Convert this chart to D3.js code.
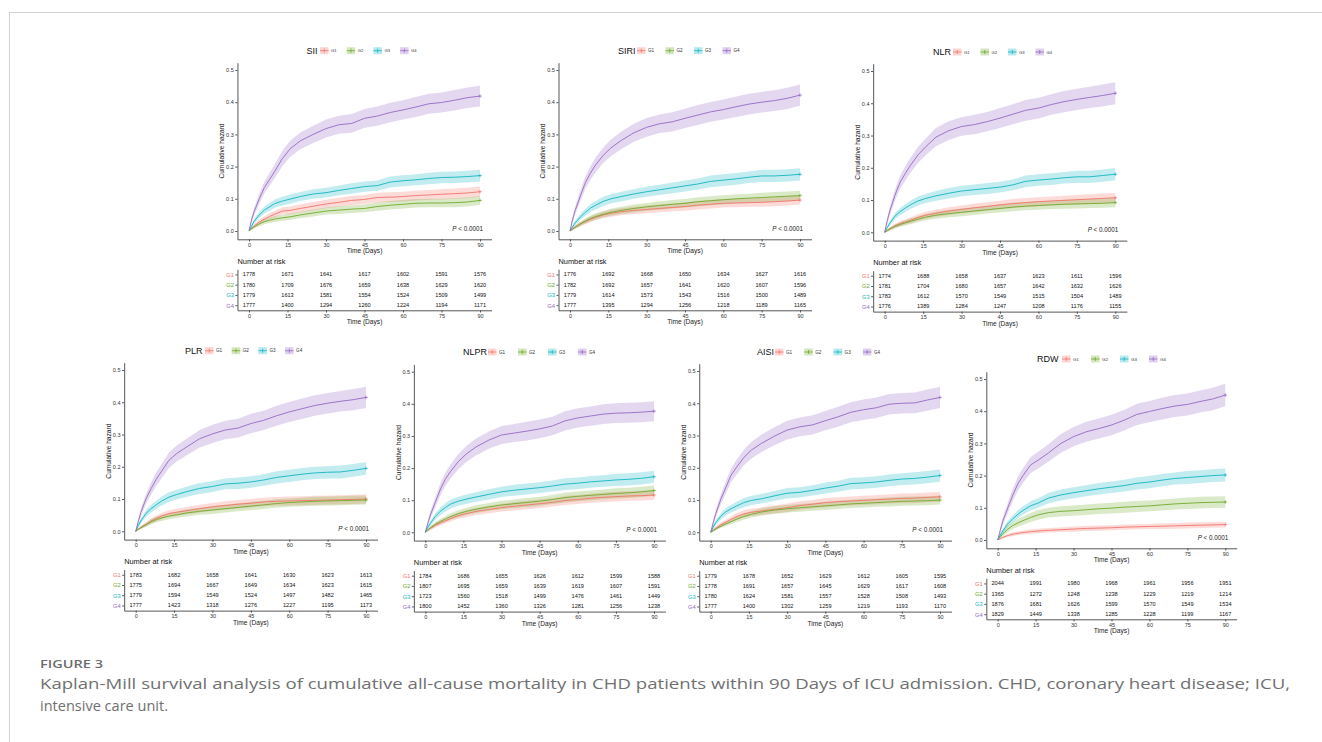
<!DOCTYPE html>
<html>
<head>
<meta charset="utf-8">
<script src="https://cdn.jsdelivr.net/npm/d3@7"></script>
<style>
  body { margin: 0; background: #fff; }
  svg { display: block; font-family: "Liberation Sans", Arial, sans-serif; }
  .axis path, .axis line { stroke: #444; stroke-width: 0.9; }
  .axis text { fill: #333; font-size: 5.5px; font-family: "Liberation Sans", Arial, sans-serif; }
</style>
</head>
<body>
<div id="chart"></div>
<script>
// Kaplan-Meier cumulative hazard panels
const groups = ["G1", "G2", "G3", "G4"];
const colors = ["#F4736B", "#6FAA2A", "#12B5C2", "#9568C4"];
const times = [0, 1, 2, 4, 6, 8, 10, 13, 16, 20, 25, 30, 35, 40, 45, 50, 55, 60, 65, 70, 75, 80, 85, 90];
const riskTimes = [0, 15, 30, 45, 60, 75, 90];
const xTicks = [0, 15, 30, 45, 60, 75, 90];
const yTicks = [0, 0.1, 0.2, 0.3, 0.4, 0.5];
const panelNames = ["SII", "SIRI", "NLR", "PLR", "NLPR", "AISI", "RDW"];

// ---- SII ----
const SII_haz = [
  [0, 0.008, 0.015, 0.028, 0.037, 0.045, 0.052, 0.062, 0.064, 0.070, 0.077, 0.084, 0.089, 0.095, 0.098, 0.104, 0.105, 0.107, 0.110, 0.112, 0.114, 0.116, 0.118, 0.122],
  [0, 0.007, 0.013, 0.022, 0.029, 0.033, 0.037, 0.041, 0.044, 0.050, 0.056, 0.062, 0.065, 0.068, 0.070, 0.076, 0.080, 0.083, 0.086, 0.087, 0.087, 0.088, 0.090, 0.095],
  [0, 0.015, 0.030, 0.050, 0.065, 0.075, 0.085, 0.093, 0.099, 0.107, 0.115, 0.119, 0.126, 0.132, 0.138, 0.141, 0.152, 0.156, 0.159, 0.163, 0.166, 0.167, 0.169, 0.172],
  [0, 0.035, 0.060, 0.100, 0.135, 0.160, 0.185, 0.225, 0.255, 0.280, 0.300, 0.318, 0.330, 0.334, 0.350, 0.357, 0.368, 0.376, 0.385, 0.395, 0.399, 0.406, 0.414, 0.419]
];
const SII_ci = [
  [0, 0.004, 0.006, 0.008, 0.009, 0.010, 0.010, 0.011, 0.012, 0.012, 0.013, 0.013, 0.014, 0.014, 0.014, 0.015, 0.015, 0.015, 0.015, 0.015, 0.016, 0.016, 0.016, 0.016],
  [0, 0.004, 0.005, 0.007, 0.008, 0.008, 0.009, 0.009, 0.010, 0.010, 0.011, 0.011, 0.012, 0.012, 0.012, 0.013, 0.013, 0.013, 0.013, 0.013, 0.013, 0.014, 0.014, 0.014],
  [0, 0.005, 0.008, 0.010, 0.011, 0.012, 0.013, 0.013, 0.014, 0.014, 0.015, 0.015, 0.015, 0.016, 0.016, 0.016, 0.017, 0.017, 0.017, 0.018, 0.018, 0.018, 0.018, 0.018],
  [0, 0.009, 0.012, 0.016, 0.018, 0.020, 0.021, 0.024, 0.025, 0.026, 0.027, 0.028, 0.028, 0.029, 0.029, 0.030, 0.030, 0.030, 0.031, 0.031, 0.031, 0.032, 0.032, 0.032]
];
const SII_risk = [
  [1778, 1671, 1641, 1617, 1602, 1591, 1576],
  [1780, 1709, 1676, 1659, 1638, 1629, 1620],
  [1779, 1613, 1581, 1554, 1524, 1509, 1499],
  [1777, 1400, 1294, 1260, 1224, 1194, 1171]
];

// ---- SIRI ----
const SIRI_haz = [
  [0, 0.006, 0.012, 0.021, 0.029, 0.036, 0.042, 0.050, 0.055, 0.060, 0.064, 0.067, 0.070, 0.073, 0.076, 0.080, 0.083, 0.086, 0.087, 0.088, 0.089, 0.091, 0.093, 0.096],
  [0, 0.006, 0.012, 0.022, 0.031, 0.039, 0.045, 0.052, 0.058, 0.064, 0.070, 0.075, 0.079, 0.083, 0.086, 0.091, 0.094, 0.097, 0.100, 0.102, 0.104, 0.106, 0.108, 0.110],
  [0, 0.013, 0.025, 0.043, 0.058, 0.071, 0.080, 0.092, 0.100, 0.107, 0.115, 0.122, 0.128, 0.134, 0.140, 0.146, 0.154, 0.158, 0.162, 0.167, 0.171, 0.171, 0.173, 0.176],
  [0, 0.035, 0.063, 0.108, 0.150, 0.180, 0.205, 0.235, 0.258, 0.281, 0.305, 0.322, 0.333, 0.339, 0.350, 0.360, 0.370, 0.377, 0.386, 0.394, 0.400, 0.405, 0.412, 0.422]
];
const SIRI_ci = [
  [0, 0.004, 0.005, 0.007, 0.008, 0.009, 0.009, 0.010, 0.011, 0.011, 0.011, 0.012, 0.012, 0.012, 0.013, 0.013, 0.013, 0.013, 0.013, 0.013, 0.014, 0.014, 0.014, 0.014],
  [0, 0.004, 0.005, 0.007, 0.008, 0.009, 0.010, 0.010, 0.011, 0.011, 0.012, 0.012, 0.013, 0.013, 0.013, 0.014, 0.014, 0.014, 0.014, 0.014, 0.015, 0.015, 0.015, 0.015],
  [0, 0.005, 0.007, 0.009, 0.011, 0.012, 0.013, 0.014, 0.014, 0.015, 0.015, 0.016, 0.016, 0.017, 0.017, 0.017, 0.018, 0.018, 0.018, 0.018, 0.019, 0.019, 0.019, 0.019],
  [0, 0.009, 0.012, 0.017, 0.019, 0.021, 0.023, 0.024, 0.026, 0.027, 0.028, 0.029, 0.029, 0.030, 0.030, 0.031, 0.031, 0.031, 0.032, 0.032, 0.032, 0.032, 0.033, 0.033]
];
const SIRI_risk = [
  [1776, 1692, 1668, 1650, 1634, 1627, 1616],
  [1782, 1692, 1657, 1641, 1620, 1607, 1596],
  [1779, 1614, 1573, 1543, 1516, 1500, 1489],
  [1777, 1395, 1294, 1256, 1218, 1189, 1165]
];

// ---- NLR ----
const NLR_haz = [
  [0, 0.006, 0.011, 0.020, 0.027, 0.032, 0.037, 0.046, 0.053, 0.059, 0.066, 0.071, 0.076, 0.080, 0.085, 0.089, 0.092, 0.095, 0.097, 0.099, 0.101, 0.103, 0.105, 0.107],
  [0, 0.005, 0.010, 0.018, 0.024, 0.029, 0.034, 0.041, 0.047, 0.053, 0.058, 0.062, 0.066, 0.070, 0.074, 0.078, 0.081, 0.083, 0.085, 0.087, 0.088, 0.089, 0.090, 0.092],
  [0, 0.015, 0.028, 0.050, 0.064, 0.075, 0.085, 0.097, 0.105, 0.113, 0.121, 0.128, 0.132, 0.136, 0.140, 0.147, 0.158, 0.162, 0.165, 0.169, 0.172, 0.172, 0.176, 0.180],
  [0, 0.036, 0.066, 0.115, 0.155, 0.182, 0.207, 0.240, 0.265, 0.295, 0.315, 0.328, 0.334, 0.343, 0.354, 0.366, 0.378, 0.385, 0.396, 0.405, 0.412, 0.418, 0.424, 0.431]
];
const NLR_ci = [
  [0, 0.004, 0.005, 0.006, 0.008, 0.008, 0.009, 0.010, 0.011, 0.011, 0.012, 0.012, 0.013, 0.013, 0.013, 0.014, 0.014, 0.014, 0.014, 0.014, 0.015, 0.015, 0.015, 0.015],
  [0, 0.003, 0.005, 0.006, 0.007, 0.008, 0.009, 0.009, 0.010, 0.011, 0.011, 0.012, 0.012, 0.012, 0.013, 0.013, 0.013, 0.013, 0.013, 0.014, 0.014, 0.014, 0.014, 0.014],
  [0, 0.005, 0.007, 0.010, 0.011, 0.012, 0.013, 0.014, 0.014, 0.015, 0.016, 0.016, 0.016, 0.017, 0.017, 0.017, 0.018, 0.018, 0.018, 0.018, 0.019, 0.019, 0.019, 0.019],
  [0, 0.010, 0.013, 0.017, 0.020, 0.022, 0.023, 0.025, 0.026, 0.028, 0.029, 0.029, 0.030, 0.030, 0.031, 0.031, 0.032, 0.032, 0.032, 0.033, 0.033, 0.033, 0.034, 0.034]
];
const NLR_risk = [
  [1774, 1688, 1658, 1637, 1623, 1611, 1596],
  [1781, 1704, 1680, 1657, 1642, 1632, 1626],
  [1783, 1612, 1570, 1549, 1515, 1504, 1489],
  [1776, 1389, 1284, 1247, 1208, 1176, 1155]
];

// ---- PLR ----
const PLR_haz = [
  [0, 0.006, 0.012, 0.021, 0.032, 0.040, 0.047, 0.055, 0.059, 0.064, 0.070, 0.076, 0.080, 0.084, 0.087, 0.091, 0.093, 0.094, 0.095, 0.096, 0.097, 0.098, 0.099, 0.100],
  [0, 0.006, 0.011, 0.020, 0.029, 0.036, 0.041, 0.047, 0.051, 0.057, 0.062, 0.066, 0.070, 0.074, 0.078, 0.082, 0.086, 0.089, 0.091, 0.093, 0.094, 0.095, 0.096, 0.097],
  [0, 0.017, 0.032, 0.055, 0.070, 0.082, 0.093, 0.106, 0.114, 0.123, 0.133, 0.139, 0.147, 0.149, 0.153, 0.159, 0.167, 0.172, 0.177, 0.181, 0.183, 0.184, 0.189, 0.195],
  [0, 0.030, 0.058, 0.100, 0.132, 0.161, 0.185, 0.220, 0.241, 0.262, 0.287, 0.302, 0.314, 0.320, 0.334, 0.344, 0.358, 0.370, 0.380, 0.390, 0.397, 0.403, 0.408, 0.415]
];
const PLR_ci = [
  [0, 0.003, 0.005, 0.006, 0.008, 0.009, 0.010, 0.010, 0.011, 0.011, 0.012, 0.012, 0.013, 0.013, 0.013, 0.013, 0.013, 0.014, 0.014, 0.014, 0.014, 0.014, 0.014, 0.014],
  [0, 0.003, 0.005, 0.006, 0.008, 0.009, 0.009, 0.010, 0.010, 0.011, 0.011, 0.012, 0.012, 0.012, 0.013, 0.013, 0.013, 0.013, 0.013, 0.014, 0.014, 0.014, 0.014, 0.014],
  [0, 0.006, 0.008, 0.011, 0.012, 0.013, 0.014, 0.015, 0.015, 0.016, 0.017, 0.017, 0.017, 0.018, 0.018, 0.018, 0.019, 0.019, 0.019, 0.019, 0.019, 0.020, 0.020, 0.020],
  [0, 0.009, 0.012, 0.016, 0.019, 0.021, 0.022, 0.024, 0.025, 0.026, 0.027, 0.028, 0.029, 0.029, 0.030, 0.030, 0.031, 0.031, 0.032, 0.032, 0.032, 0.032, 0.033, 0.033]
];
const PLR_risk = [
  [1783, 1682, 1658, 1641, 1630, 1623, 1613],
  [1775, 1694, 1667, 1649, 1634, 1623, 1615],
  [1779, 1594, 1549, 1524, 1497, 1482, 1465],
  [1777, 1423, 1318, 1276, 1227, 1195, 1173]
];

// ---- NLPR ----
const NLPR_haz = [
  [0, 0.006, 0.012, 0.022, 0.030, 0.036, 0.043, 0.052, 0.058, 0.065, 0.071, 0.077, 0.081, 0.085, 0.089, 0.093, 0.099, 0.102, 0.106, 0.109, 0.111, 0.113, 0.114, 0.116],
  [0, 0.007, 0.014, 0.025, 0.034, 0.042, 0.049, 0.058, 0.065, 0.072, 0.079, 0.085, 0.089, 0.093, 0.097, 0.102, 0.108, 0.112, 0.115, 0.118, 0.121, 0.123, 0.126, 0.130],
  [0, 0.015, 0.028, 0.050, 0.066, 0.078, 0.088, 0.097, 0.103, 0.110, 0.118, 0.126, 0.131, 0.135, 0.139, 0.144, 0.150, 0.153, 0.157, 0.160, 0.163, 0.165, 0.168, 0.173],
  [0, 0.028, 0.054, 0.095, 0.135, 0.167, 0.190, 0.220, 0.243, 0.266, 0.287, 0.303, 0.309, 0.315, 0.322, 0.331, 0.347, 0.356, 0.362, 0.368, 0.371, 0.372, 0.374, 0.377]
];
const NLPR_ci = [
  [0, 0.003, 0.005, 0.007, 0.008, 0.008, 0.009, 0.010, 0.011, 0.011, 0.012, 0.012, 0.013, 0.013, 0.013, 0.013, 0.014, 0.014, 0.014, 0.015, 0.015, 0.015, 0.015, 0.015],
  [0, 0.004, 0.005, 0.007, 0.008, 0.009, 0.010, 0.011, 0.011, 0.012, 0.012, 0.013, 0.013, 0.014, 0.014, 0.014, 0.015, 0.015, 0.015, 0.015, 0.016, 0.016, 0.016, 0.016],
  [0, 0.006, 0.008, 0.010, 0.012, 0.013, 0.014, 0.014, 0.015, 0.015, 0.016, 0.016, 0.017, 0.017, 0.017, 0.017, 0.018, 0.018, 0.018, 0.018, 0.019, 0.019, 0.019, 0.019],
  [0, 0.008, 0.012, 0.016, 0.019, 0.021, 0.022, 0.024, 0.025, 0.026, 0.027, 0.028, 0.028, 0.029, 0.029, 0.029, 0.030, 0.030, 0.030, 0.031, 0.031, 0.031, 0.031, 0.031]
];
const NLPR_risk = [
  [1784, 1686, 1655, 1626, 1612, 1599, 1588],
  [1807, 1695, 1659, 1639, 1619, 1607, 1591],
  [1723, 1560, 1518, 1499, 1476, 1461, 1449],
  [1800, 1452, 1360, 1326, 1281, 1256, 1238]
];

// ---- AISI ----
const AISI_haz = [
  [0, 0.007, 0.013, 0.023, 0.032, 0.040, 0.048, 0.057, 0.062, 0.066, 0.071, 0.076, 0.083, 0.087, 0.092, 0.095, 0.097, 0.099, 0.101, 0.103, 0.105, 0.106, 0.108, 0.110],
  [0, 0.005, 0.010, 0.019, 0.026, 0.033, 0.040, 0.049, 0.056, 0.063, 0.069, 0.073, 0.076, 0.079, 0.082, 0.085, 0.088, 0.090, 0.092, 0.094, 0.096, 0.097, 0.098, 0.100],
  [0, 0.016, 0.030, 0.050, 0.064, 0.073, 0.081, 0.092, 0.099, 0.104, 0.113, 0.121, 0.124, 0.130, 0.137, 0.143, 0.151, 0.153, 0.156, 0.161, 0.165, 0.167, 0.171, 0.176],
  [0, 0.030, 0.058, 0.103, 0.140, 0.177, 0.200, 0.232, 0.255, 0.276, 0.298, 0.317, 0.327, 0.333, 0.346, 0.358, 0.372, 0.380, 0.386, 0.397, 0.400, 0.401, 0.410, 0.418]
];
const AISI_ci = [
  [0, 0.004, 0.005, 0.007, 0.008, 0.009, 0.010, 0.011, 0.011, 0.012, 0.012, 0.013, 0.013, 0.013, 0.014, 0.014, 0.014, 0.014, 0.014, 0.014, 0.015, 0.015, 0.015, 0.015],
  [0, 0.003, 0.004, 0.006, 0.007, 0.008, 0.009, 0.010, 0.010, 0.011, 0.012, 0.012, 0.012, 0.012, 0.013, 0.013, 0.013, 0.013, 0.013, 0.014, 0.014, 0.014, 0.014, 0.014],
  [0, 0.006, 0.008, 0.010, 0.012, 0.012, 0.013, 0.014, 0.014, 0.015, 0.015, 0.016, 0.016, 0.016, 0.017, 0.017, 0.018, 0.018, 0.018, 0.018, 0.018, 0.019, 0.019, 0.019],
  [0, 0.009, 0.012, 0.016, 0.019, 0.021, 0.023, 0.024, 0.026, 0.027, 0.028, 0.029, 0.029, 0.030, 0.030, 0.031, 0.031, 0.032, 0.032, 0.032, 0.032, 0.032, 0.033, 0.033]
];
const AISI_risk = [
  [1779, 1678, 1652, 1629, 1612, 1605, 1595],
  [1778, 1691, 1657, 1645, 1629, 1617, 1608],
  [1780, 1624, 1581, 1557, 1528, 1508, 1493],
  [1777, 1400, 1302, 1259, 1219, 1193, 1170]
];

// ---- RDW ----
const RDW_haz = [
  [0, 0.004, 0.008, 0.014, 0.018, 0.021, 0.023, 0.026, 0.028, 0.030, 0.032, 0.034, 0.036, 0.037, 0.038, 0.040, 0.041, 0.042, 0.043, 0.044, 0.045, 0.046, 0.047, 0.048],
  [0, 0.010, 0.019, 0.034, 0.045, 0.053, 0.060, 0.070, 0.078, 0.085, 0.089, 0.091, 0.094, 0.097, 0.099, 0.102, 0.104, 0.106, 0.109, 0.112, 0.114, 0.116, 0.117, 0.118],
  [0, 0.015, 0.028, 0.050, 0.066, 0.080, 0.092, 0.106, 0.115, 0.130, 0.140, 0.147, 0.153, 0.159, 0.164, 0.169, 0.176, 0.180, 0.186, 0.191, 0.194, 0.197, 0.200, 0.202],
  [0, 0.030, 0.058, 0.100, 0.140, 0.175, 0.200, 0.233, 0.248, 0.270, 0.300, 0.321, 0.336, 0.346, 0.357, 0.372, 0.390, 0.399, 0.408, 0.416, 0.421, 0.430, 0.438, 0.450]
];
const RDW_ci = [
  [0, 0.003, 0.004, 0.005, 0.006, 0.006, 0.006, 0.007, 0.007, 0.007, 0.007, 0.008, 0.008, 0.008, 0.008, 0.008, 0.008, 0.008, 0.009, 0.009, 0.009, 0.009, 0.009, 0.009],
  [0, 0.005, 0.007, 0.010, 0.011, 0.012, 0.013, 0.014, 0.015, 0.015, 0.016, 0.016, 0.016, 0.016, 0.017, 0.017, 0.017, 0.017, 0.017, 0.017, 0.018, 0.018, 0.018, 0.018],
  [0, 0.005, 0.007, 0.010, 0.011, 0.013, 0.013, 0.014, 0.015, 0.016, 0.017, 0.017, 0.017, 0.018, 0.018, 0.018, 0.019, 0.019, 0.019, 0.019, 0.020, 0.020, 0.020, 0.020],
  [0, 0.009, 0.012, 0.016, 0.019, 0.022, 0.023, 0.025, 0.026, 0.027, 0.029, 0.030, 0.031, 0.031, 0.032, 0.032, 0.033, 0.033, 0.034, 0.034, 0.034, 0.034, 0.035, 0.035]
];
const RDW_risk = [
  [2044, 1991, 1980, 1968, 1961, 1956, 1951],
  [1365, 1272, 1248, 1238, 1229, 1219, 1214],
  [1876, 1681, 1626, 1599, 1570, 1549, 1534],
  [1829, 1449, 1338, 1285, 1228, 1199, 1167]
];

const hazards = [SII_haz, SIRI_haz, NLR_haz, PLR_haz, NLPR_haz, AISI_haz, RDW_haz];
const cis = [SII_ci, SIRI_ci, NLR_ci, PLR_ci, NLPR_ci, AISI_ci, RDW_ci];
const risks = [SII_risk, SIRI_risk, NLR_risk, PLR_risk, NLPR_risk, AISI_risk, RDW_risk];

// page positions of each panel: pixel of day 0 / day 90 and of hazard 0 / 0.5
const layout = [
  {x0: 249, x90: 480, y0: 231, y05: 70, titleX: 306.5, keyX: 320, keyStep: 26.7, legY: 50.7, keyFont: 4.2},
  {x0: 570, x90: 800, y0: 231, y05: 70, titleX: 618, keyX: 637, keyStep: 28.5, legY: 50.7, keyFont: 4.6},
  {x0: 884.7, x90: 1115.3, y0: 232.3, y05: 71, titleX: 933, keyX: 953, keyStep: 27.5, legY: 52, keyFont: 4.2},
  {x0: 135.7, x90: 366, y0: 531.3, y05: 370, titleX: 185, keyX: 205, keyStep: 26.7, legY: 350.7, keyFont: 4.6},
  {x0: 425.3, x90: 654, y0: 532.3, y05: 371.7, titleX: 463, keyX: 488, keyStep: 30, legY: 352, keyFont: 4.6},
  {x0: 710.7, x90: 940, y0: 532.3, y05: 371, titleX: 757, keyX: 775, keyStep: 29.3, legY: 352, keyFont: 4.6},
  {x0: 997.7, x90: 1225.3, y0: 540, y05: 379, titleX: 1037, keyX: 1062, keyStep: 29, legY: 359, keyFont: 4.4}
];

const W = 1322, H = 742;
const svg = d3.select("#chart").append("svg")
    .attr("width", W)
    .attr("height", H);

// page frame
svg.append("line").attr("x1", 9).attr("x2", W).attr("y1", 12.5).attr("y2", 12.5)
    .attr("stroke", "#d2d2d2").attr("stroke-width", 1);
svg.append("line").attr("x1", 9.5).attr("x2", 9.5).attr("y1", 12).attr("y2", H)
    .attr("stroke", "#d2d2d2").attr("stroke-width", 1);

panelNames.forEach((name, p) => drawPanel(name, hazards[p], cis[p], risks[p], layout[p]));

function drawPanel(name, haz, ci, risk, L) {
    const g = svg.append("g");

    // ggplot style 5% expansion on both axes
    const base = d3.scaleLinear().domain([0, 90]).range([L.x0, L.x90]);
    const x = d3.scaleLinear().domain([-4.5, 94.5]).range([base(-4.5), base(94.5)]);
    const yb = d3.scaleLinear().domain([0, 0.5]).range([L.y0, L.y05]);
    const y = d3.scaleLinear().domain([-0.0258, 0.5227]).range([yb(-0.0258), yb(0.5227)]);
    const left = x.range()[0];
    const bottom = y.range()[0], top = y.range()[1];

    // ribbons
    const area = d3.area()
        .x((d, i) => x(times[i]))
        .y0(d => y(Math.max(0, d[0] - d[1])))
        .y1(d => y(d[0] + d[1]));
    haz.forEach((h, k) => {
        g.append("path")
            .datum(h.map((v, i) => [v, ci[k][i]]))
            .attr("d", area)
            .attr("fill", colors[k])
            .attr("fill-opacity", 0.26);
    });

    // curves
    const line = d3.line().x((d, i) => x(times[i])).y(d => y(d));
    haz.forEach((h, k) => {
        g.append("path")
            .datum(h)
            .attr("d", line)
            .attr("fill", "none")
            .attr("stroke", colors[k])
            .attr("stroke-width", 0.9);
        // censor mark at the end
        const cx = x(times[times.length - 1]), cy = y(h[h.length - 1]);
        g.append("path")
            .attr("d", `M${cx - 1.8},${cy}H${cx + 1.8}M${cx},${cy - 1.8}V${cy + 1.8}`)
            .attr("stroke", colors[k])
            .attr("stroke-width", 0.7);
    });

    // axes
    g.append("g")
        .attr("class", "axis")
        .attr("transform", `translate(0,${bottom})`)
        .call(d3.axisBottom(x).tickValues(xTicks).tickSize(2.2).tickSizeOuter(0).tickPadding(1.5));
    g.append("g")
        .attr("class", "axis")
        .attr("transform", `translate(${left},0)`)
        .call(d3.axisLeft(y).tickValues(yTicks).tickFormat(d3.format(".1f")).tickSize(2.2).tickSizeOuter(0).tickPadding(1.5));

    g.append("text")
        .attr("x", x(45))
        .attr("y", bottom + 11.6)
        .attr("text-anchor", "middle")
        .attr("dominant-baseline", "central")
        .style("font-size", "6.6px")
        .attr("fill", "#222")
        .text("Time (Days)");

    g.append("text")
        .attr("transform", `translate(${left - 15.6},${(top + bottom) / 2}) rotate(-90)`)
        .attr("text-anchor", "middle")
        .attr("dominant-baseline", "central")
        .style("font-size", "6.6px")
        .attr("fill", "#222")
        .text("Cumulative hazard");

    // p-value
    const pt = g.append("text")
        .attr("x", x(90) + 3)
        .attr("y", y(0) - 3.3)
        .attr("text-anchor", "end")
        .attr("dominant-baseline", "central")
        .style("font-size", "6.3px")
        .attr("fill", "#222");
    pt.append("tspan").style("font-style", "italic").text("P");
    pt.append("tspan").text(" < 0.0001");

    // legend
    g.append("text")
        .attr("x", L.titleX)
        .attr("y", L.legY)
        .attr("dominant-baseline", "central")
        .style("font-size", "9px")
        .attr("fill", "#111")
        .text(name);
    groups.forEach((grp, k) => {
        const kx = L.keyX + k * L.keyStep;
        g.append("rect")
            .attr("x", kx).attr("y", L.legY - 3.5)
            .attr("width", 8.5).attr("height", 7)
            .attr("fill", colors[k]).attr("fill-opacity", 0.3);
        g.append("path")
            .attr("d", `M${kx},${L.legY}H${kx + 8.5}M${kx + 4.25},${L.legY - 2}V${L.legY + 2}`)
            .attr("stroke", colors[k]).attr("stroke-width", 0.8);
        g.append("text")
            .attr("x", kx + 11)
            .attr("y", L.legY)
            .attr("dominant-baseline", "central")
            .style("font-size", L.keyFont + "px")
            .attr("fill", "#333")
            .text(grp);
    });

    // number at risk table
    const tTop = bottom + 30, tBottom = bottom + 71;
    const row = d3.scalePoint().domain(groups).range([tTop, tBottom]).padding(0.5);

    g.append("text")
        .attr("x", left)
        .attr("y", bottom + 22.3)
        .attr("dominant-baseline", "central")
        .style("font-size", "7.4px")
        .attr("fill", "#111")
        .text("Number at risk");

    const ry = g.append("g")
        .attr("class", "axis")
        .attr("transform", `translate(${left},0)`)
        .call(d3.axisLeft(row).tickSize(2).tickSizeOuter(0).tickPadding(1.5));
    ry.selectAll(".tick text").style("fill", (d, i) => colors[i]).style("font-size", "5.8px");

    g.append("g")
        .attr("class", "axis")
        .attr("transform", `translate(0,${tBottom})`)
        .call(d3.axisBottom(x).tickValues(xTicks).tickSize(2.2).tickSizeOuter(0).tickPadding(1.5));

    risk.forEach((vals, k) => {
        g.selectAll(null)
            .data(vals)
            .enter()
            .append("text")
            .attr("x", (d, i) => x(riskTimes[i]))
            .attr("y", row(groups[k]))
            .attr("text-anchor", "middle")
            .attr("dominant-baseline", "central")
            .style("font-size", "5.6px")
            .attr("fill", "#111")
            .text(d => d);
    });

    g.append("text")
        .attr("x", x(45))
        .attr("y", tBottom + 11.6)
        .attr("text-anchor", "middle")
        .attr("dominant-baseline", "central")
        .style("font-size", "6.6px")
        .attr("fill", "#222")
        .text("Time (Days)");
}

// caption
svg.append("text")
    .attr("x", 40).attr("y", 668)
    .style("font-family", "'Open Sans', sans-serif")
    .style("font-size", "10.5px")
    .style("font-weight", 600)
    .attr("fill", "#6b6b6b")
    .attr("textLength", 63)
    .attr("lengthAdjust", "spacingAndGlyphs")
    .text("FIGURE 3");
svg.append("text")
    .attr("x", 40).attr("y", 688.5)
    .style("font-family", "'Open Sans', sans-serif")
    .style("font-size", "15px")
    .attr("fill", "#707070")
    .attr("textLength", 1250)
    .attr("lengthAdjust", "spacingAndGlyphs")
    .text("Kaplan-Mill survival analysis of cumulative all-cause mortality in CHD patients within 90 Days of ICU admission. CHD, coronary heart disease; ICU,");
svg.append("text")
    .attr("x", 40).attr("y", 710.5)
    .style("font-family", "'Open Sans', sans-serif")
    .style("font-size", "15px")
    .attr("fill", "#707070")
    .attr("textLength", 128)
    .attr("lengthAdjust", "spacingAndGlyphs")
    .text("intensive care unit.");
</script>
</body>
</html>
